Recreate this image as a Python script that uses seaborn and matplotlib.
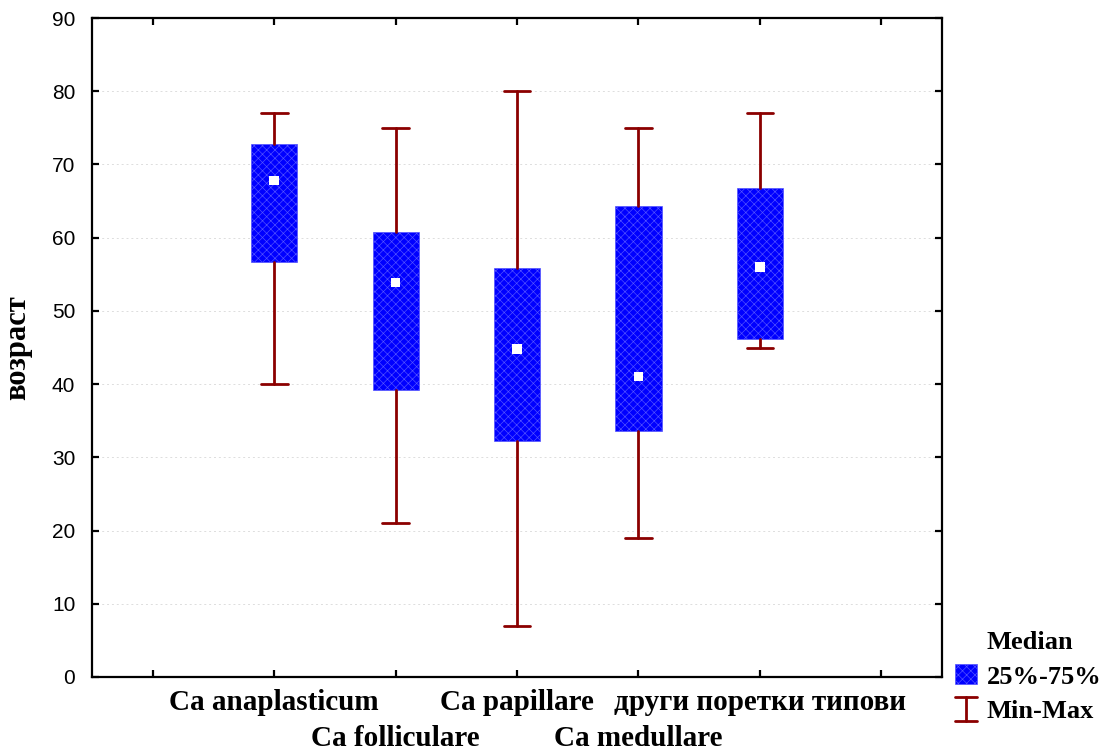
import matplotlib
matplotlib.use("Agg")
import matplotlib.pyplot as plt
import seaborn as sns
import pandas as pd
from matplotlib.lines import Line2D
from matplotlib.patches import Patch
from matplotlib.legend_handler import HandlerBase

# ---- data ----
categories = ["Ca anaplasticum", "Ca folliculare", "Ca papillare",
              "Ca medullare", "други поретки типови"]
mins    = [40, 21, 7, 19, 45]
q1s     = [56.7, 39.2, 32.2, 33.6, 46.1]
medians = [67.8, 53.9, 44.8, 41.0, 56.0]
q3s     = [72.8, 60.8, 55.8, 64.3, 66.8]
maxs    = [77, 75, 80, 75, 77]
y_ticks = [0, 10, 20, 30, 40, 50, 60, 70, 80, 90]
y_label = "возраст"
legend_labels = ["Median", "25%-75%", "Min-Max"]

sns.set_theme(style="white")
plt.rcParams["font.family"] = ["Liberation Serif", "DejaVu Serif"]
plt.rcParams["hatch.linewidth"] = 0.45
plt.rcParams["text.color"] = "black"
plt.rcParams["xtick.color"] = "black"
plt.rcParams["ytick.color"] = "black"
plt.rcParams["axes.labelcolor"] = "black"

BLUE = "#0000ff"
HATCH_EDGE = "#5555ff"
RED = "#8b0000"

fig = plt.figure(figsize=(11.04, 7.51), dpi=100)
ax = fig.add_axes([92 / 1104, 74 / 751, (942 - 92) / 1104, (677 - 18) / 751])

positions = list(range(1, len(categories) + 1))
stats = []
for c, lo, a, m, b, hi in zip(categories, mins, q1s, medians, q3s, maxs):
    stats.append(dict(label=c, whislo=lo, q1=a, med=m, q3=b, whishi=hi, fliers=[]))

ax.bxp(stats, positions=positions, widths=0.38, capwidths=0.22,
       patch_artist=True, showfliers=False,
       boxprops=dict(facecolor=BLUE, edgecolor=HATCH_EDGE, hatch="xxxx", linewidth=0.5),
       whiskerprops=dict(color=RED, linewidth=2.0),
       capprops=dict(color=RED, linewidth=2.0),
       medianprops=dict(linewidth=0))

med_df = pd.DataFrame({"pos": positions, "median": medians})
sns.scatterplot(data=med_df, x="pos", y="median", marker="s", color="white",
                edgecolor="none", s=45, ax=ax, zorder=5, legend=False)

ax.set_xlim(-0.5, 6.5)
ax.set_ylim(0, 90)
ax.set_yticks(y_ticks)
ax.set_yticklabels([str(t) for t in y_ticks], fontfamily="Liberation Sans", fontsize=15)
xt = list(range(0, len(categories) + 2))
ax.set_xticks(xt)
ax.set_xticklabels([""] * len(xt))
# category labels on two staggered rows
for i, (p, c) in enumerate(zip(positions, categories)):
    y_px = 703 if i % 2 == 0 else 738
    ax.text(p, (677 - y_px) / (677 - 18), c, transform=ax.get_xaxis_transform(),
            ha="center", va="center", fontsize=21, fontweight="bold", color="black")
ax.set_xlabel("")
ax.set_ylabel(y_label, fontsize=22, fontweight="bold", labelpad=14)

for s in ax.spines.values():
    s.set_visible(True)
    s.set_color("black")
    s.set_linewidth(1.6)
ax.tick_params(direction="in", length=5, width=1.6, top=True, right=True,
               left=True, bottom=True, labeltop=False, labelright=False)
ax.tick_params(axis="y", pad=12)
ax.yaxis.grid(True, linestyle=(0, (2, 3)), color="#dddddd", linewidth=0.7)
ax.xaxis.grid(False)
ax.set_axisbelow(True)


class HandlerIBeam(HandlerBase):
    def create_artists(self, legend, orig_handle, xdescent, ydescent,
                       width, height, fontsize, trans):
        cx = width / 2 - xdescent
        y0 = -ydescent - 0.1 * height
        y1 = height - ydescent + 0.1 * height
        half = width / 2
        v = Line2D([cx, cx], [y0, y1], color=RED, lw=2.0, transform=trans)
        t = Line2D([cx - half, cx + half], [y1, y1], color=RED, lw=2.0, transform=trans)
        b = Line2D([cx - half, cx + half], [y0, y0], color=RED, lw=2.0, transform=trans)
        return [v, t, b]


h_med = Line2D([], [], marker="s", color="white", linestyle="none")
h_box = Patch(facecolor=BLUE, edgecolor=HATCH_EDGE, hatch="xxxx", linewidth=0.5)
h_mm = Line2D([], [], color=RED)
fig.legend([h_med, h_box, h_mm], legend_labels,
           handler_map={h_mm: HandlerIBeam()},
           loc="upper left", bbox_to_anchor=(955 / 1104, 1 - 630 / 751),
           frameon=False, borderpad=0, borderaxespad=0,
           prop=dict(family="Liberation Serif", weight="bold", size=19),
           handlelength=0.85, handleheight=0.8, handletextpad=0.35,
           labelspacing=0.38)

fig.savefig("out.png", dpi=100)
